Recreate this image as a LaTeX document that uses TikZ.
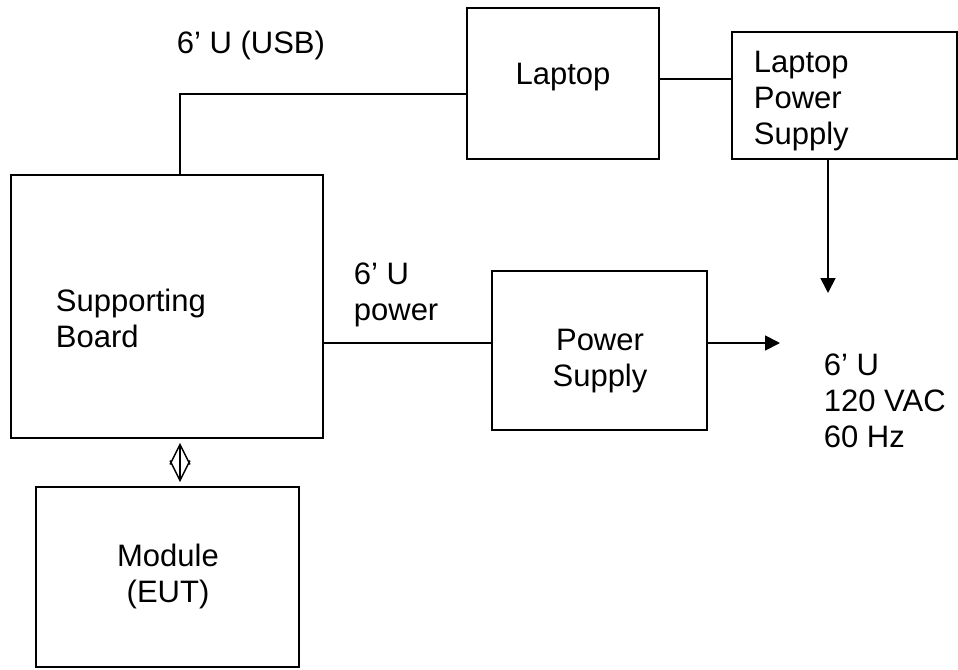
\documentclass[tikz,border=0pt]{standalone}
\usepackage{fontspec}
\setmainfont{Liberation Sans}
\usetikzlibrary{arrows.meta}

\begin{document}
\begin{tikzpicture}[x=1pt, y=-1pt, line width=1.8pt,
        font=\fontsize{31}{36}\selectfont,
        box/.style={draw, rectangle, inner sep=0pt},
        txt/.style={inner sep=0pt, align=left},
        arr/.style={-{Triangle[length=15pt, width=15pt]}},
        dbl/.style={{Straight Barb[length=20pt, width=20pt]}-{Straight Barb[length=20pt, width=20pt]}, line width=1.4pt}]
        \useasboundingbox (0,0) rectangle (958,669);

        % Boxes
        \node[box, minimum width=312pt, minimum height=263pt] (board)  at (167,306.5) {};
        \node[box, minimum width=263pt, minimum height=180pt] (module) at (167.5,577) {};
        \node[box, minimum width=192pt, minimum height=151pt] (laptop) at (563,83.5)  {};
        \node[box, minimum width=225pt, minimum height=127pt] (lps)    at (844.5,95.5) {};
        \node[box, minimum width=215pt, minimum height=159pt] (ps)     at (599.5,350.5) {};

        % Box texts
        \node[txt, anchor=north west] (boardtext)  at (55,288)  {Supporting\\Board};
        \node[txt, anchor=north, align=center] (moduletext) at (168,543) {Module\\(EUT)};
        \node[txt, anchor=north] (laptoptext) at (563,62)  {Laptop};
        \node[txt, anchor=north west] (lpstext) at (753,50) {Laptop\\Power\\Supply};
        \node[txt, anchor=north, align=center] (pstext) at (600,328) {Power\\Supply};

        % Cable texts
        \node[txt, anchor=north west] (usbtext)   at (176,30)  {6' U (USB)};
        \node[txt, anchor=north west] (powertext) at (353,262) {6' U\\power};
        \node[txt, anchor=north west] (mainstext) at (823,353) {6' U\\120 VAC\\60 Hz};

        % Cable points
        \coordinate (usb)    at (180,94);
        \coordinate (lapcab) at (700,79);
        \coordinate (pwr)    at (400,343);
        \coordinate (mains1) at (828,293);
        \coordinate (mains2) at (780,343);

        % Cables
        \draw (usb |- board.north) -- (usb) -- (usb -| laptop.west);
        \draw (laptop.east |- lapcab) -- (lps.west |- lapcab);
        \draw[arr] (lps.south -| mains1) -- (mains1);
        \draw (board.east |- pwr) -- (ps.west |- pwr);
        \draw[arr] (ps.east |- pwr) -- (mains2);
        \draw[dbl, shorten <=4pt, shorten >=4pt] (board.south -| usb) -- (module.north -| usb);
    \end{tikzpicture}
\end{document}
